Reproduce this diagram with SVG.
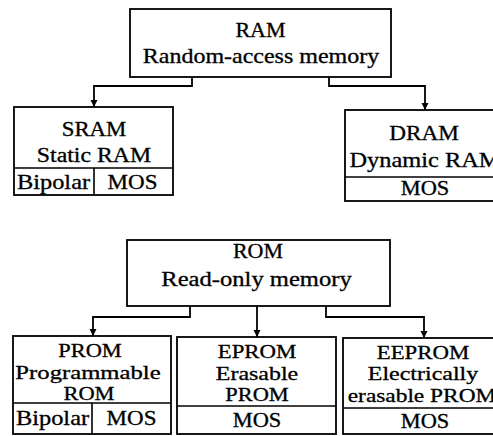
<svg xmlns="http://www.w3.org/2000/svg" width="493" height="436" viewBox="0 0 493 436">
  <style>
    .node { font-family: 'Liberation Serif', 'Times New Roman', serif; }
    .box { fill: #ffffff; stroke: #000000; stroke-width: 1.8; }
    .div { fill: none; stroke: #000000; stroke-width: 1.6; }
    .wire { fill: none; stroke: #000000; stroke-width: 1.8; }
    text { font-size: 20px; fill: #000000; stroke: #000000; stroke-width: 0.3; text-anchor: middle; }
    .sm { font-size: 19px; }
  </style>
  <defs>
    <marker id="arrow" viewBox="0 0 10 10" refX="10" refY="5" markerWidth="7" markerHeight="8" markerUnits="userSpaceOnUse" orient="auto">
      <path d="M0,0 L10,5 L0,10 Z" fill="#000000"/>
    </marker>
  </defs>
  <rect width="493" height="436" fill="#ffffff"/>

  <!-- connectors -->
  <g id="connectors">
    <path class="wire" d="M192,77 V86 H94 V107" marker-end="url(#arrow)"/>
    <path class="wire" d="M329,77 V86 H425 V110" marker-end="url(#arrow)"/>
    <path class="wire" d="M190,306 V317 H93 V336" marker-end="url(#arrow)"/>
    <path class="wire" d="M257,306 V337" marker-end="url(#arrow)"/>
    <path class="wire" d="M326,306 V317 H424 V338" marker-end="url(#arrow)"/>
  </g>

  <!-- RAM family -->
  <g id="ram" class="node">
    <rect class="box" x="130" y="9" width="261" height="68"/>
    <text transform="translate(260.5 37) scale(1.1 1)">RAM</text>
    <text transform="translate(261 63) scale(1.2 1)">Random-access memory</text>
  </g>

  <g id="sram" class="node">
    <rect class="box" x="14" y="107" width="159" height="88"/>
    <path class="div" d="M14,168 H173 M94,168 V195"/>
    <text transform="translate(94 136) scale(1.14 1)">SRAM</text>
    <text transform="translate(94 162) scale(1.19 1)">Static RAM</text>
    <text transform="translate(53.5 189) scale(1.22 1)">Bipolar</text>
    <text transform="translate(132.5 189) scale(1.15 1)">MOS</text>
  </g>

  <g id="dram" class="node">
    <rect class="box" x="345" y="110" width="160" height="91"/>
    <path class="div" d="M345,177 H505"/>
    <text transform="translate(424 140) scale(1.16 1)">DRAM</text>
    <text transform="translate(425 167) scale(1.22 1)">Dynamic RAM</text>
    <text transform="translate(425 195) scale(1.12 1)">MOS</text>
  </g>

  <!-- ROM family -->
  <g id="rom" class="node">
    <rect class="box" x="127" y="240" width="263" height="66"/>
    <text transform="translate(258 258) scale(1.1 1)">ROM</text>
    <text transform="translate(256.5 286) scale(1.23 1)">Read-only memory</text>
  </g>

  <g id="prom" class="node">
    <rect class="box" x="13" y="336" width="158" height="98"/>
    <path class="div" d="M13,403 H171 M92,403 V434"/>
    <text class="sm" transform="translate(90 357) scale(1.18 1)">PROM</text>
    <text class="sm" transform="translate(88 378.5) scale(1.3 1)">Programmable</text>
    <text class="sm" transform="translate(89 399.5) scale(1.18 1)">ROM</text>
    <text transform="translate(52.5 425) scale(1.22 1)">Bipolar</text>
    <text transform="translate(131.5 425) scale(1.15 1)">MOS</text>
  </g>

  <g id="eprom" class="node">
    <rect class="box" x="177" y="337" width="159" height="97"/>
    <path class="div" d="M177,406 H336"/>
    <text class="sm" transform="translate(257 358) scale(1.2 1)">EPROM</text>
    <text class="sm" transform="translate(257 379.5) scale(1.26 1)">Erasable</text>
    <text class="sm" transform="translate(257 401) scale(1.18 1)">PROM</text>
    <text transform="translate(257 427) scale(1.12 1)">MOS</text>
  </g>

  <g id="eeprom" class="node">
    <rect class="box" x="343" y="338" width="160" height="96"/>
    <path class="div" d="M343,408 H503"/>
    <text class="sm" transform="translate(423 359) scale(1.2 1)">EEPROM</text>
    <text class="sm" transform="translate(423 380) scale(1.26 1)">Electrically</text>
    <text class="sm" transform="translate(422 401.5) scale(1.23 1)">erasable PROM</text>
    <text transform="translate(425 428) scale(1.12 1)">MOS</text>
  </g>
</svg>
